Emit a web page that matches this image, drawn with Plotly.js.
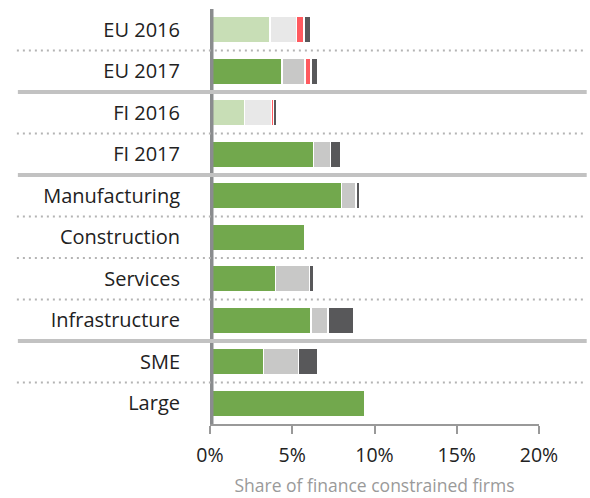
<!DOCTYPE html>
<html><head><meta charset="utf-8">
<script src="https://cdn.plot.ly/plotly-3.0.1.min.js"></script>
<style>html,body{margin:0;padding:0;background:#fff}#chart{width:590px;height:498px}</style>
</head><body><div id="chart"></div>
<script>
var categories = ["EU 2016","EU 2017","FI 2016","FI 2017","Manufacturing","Construction","Services","Infrastructure","SME","Large"];
var isPrior = [true,false,true,false,false,false,false,false,false,false];
var seg1 = [3.65,4.38,2.09,6.28,7.98,5.78,3.97,6.14,3.26,9.38];
var seg2 = [1.62,1.40,1.64,1.06,0.88,0,2.07,1.03,2.13,0];
var seg3 = [0.44,0.36,0.14,0,0,0,0,0,0,0];
var seg4 = [0.39,0.38,0.20,0.58,0.26,0,0.28,1.58,1.19,0];
var xTickVals = [0,5,10,15,20];
var xTickText = ["0%","5%","10%","15%","20%"];
var dottedAfter = [0,2,4,5,6,8];
var solidAfter = [1,3,7];

var FONT = "Open Sans, Noto Sans, sans-serif";
function colorsFor(cur, prior){ return isPrior.map(function(p){return p?prior:cur;}); }
function tr(vals, cur, prior, name){
  return {type:"bar", orientation:"h", y:categories, x:vals, name:name,
    marker:{color:colorsFor(cur,prior), line:{color:"#ffffff", width:1.5}},
    hoverinfo:"skip"};
}
var data = [
  tr(seg1,"#72a84d","#c8deb6","s1"),
  tr(seg2,"#c8c8c7","#e8e8e8","s2"),
  tr(seg3,"#ff5a5f","#ff5a5f","s3"),
  tr(seg4,"#58585a","#58585a","s4")
];
var shapes = [];
shapes.push({type:"rect", xref:"x", xsizemode:"pixel", xanchor:0, x0:-4, x1:3.5,
  yref:"paper", y0:0, y1:1, fillcolor:"#8a8c8e", line:{width:0}, layer:"above"});
dottedAfter.forEach(function(i){
  shapes.push({type:"line", xref:"paper", x0:-0.587, x1:1.14, yref:"y", y0:i+0.5, y1:i+0.5,
    line:{color:"#b4b4b4", width:2, dash:"2px,4px"}, layer:"above"});
});
solidAfter.forEach(function(i){
  shapes.push({type:"line", xref:"paper", x0:-0.584, x1:1.145, yref:"y", y0:i+0.5, y1:i+0.5,
    line:{color:"#c2c2c2", width:4}, layer:"above"});
});
var layout = {
  width:590, height:498, barmode:"stack", bargap:0.35, showlegend:false,
  margin:{l:210, r:51, t:9, b:74},
  paper_bgcolor:"#fff", plot_bgcolor:"#fff",
  font:{family:FONT, size:19, color:"#222"},
  xaxis:{range:[0,20], tickvals:xTickVals, ticktext:xTickText, showgrid:false, zeroline:false,
    showline:true, linecolor:"#999", linewidth:2, ticks:"outside", ticklen:8, tickwidth:2, tickcolor:"#999",
    ticklabelstandoff:5, tickfont:{family:FONT, size:19.5, color:"#222"},
    title:{text:"Share of finance constrained firms", font:{family:FONT, size:17.5, color:"#9a9a9a"}, standoff:12}},
  yaxis:{type:"category", autorange:"reversed", showgrid:false, zeroline:false, showline:false,
    ticks:"", ticklabelstandoff:29, tickfont:{family:FONT, size:20, color:"#222"}},
  shapes:shapes
};
Plotly.newPlot("chart", data, layout, {displayModeBar:false, staticPlot:true});
</script></body></html>
